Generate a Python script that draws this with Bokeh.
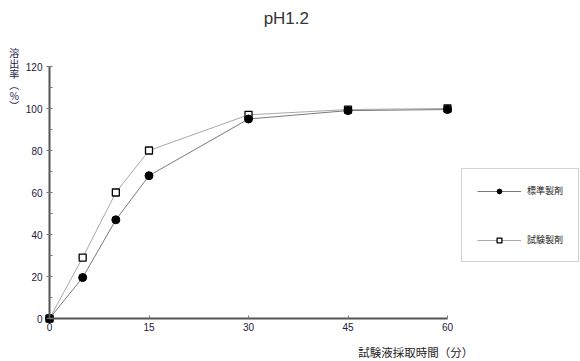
from bokeh.plotting import figure
from bokeh.models import Range1d, Legend, LegendItem, FixedTicker, Label
from bokeh.embed import file_html
from bokeh.resources import INLINE

# data
times = [0, 5, 10, 15, 30, 45, 60]
standard = [0, 19.5, 47, 68, 95, 99, 99.5]
test = [0, 29, 60, 80, 97, 99.5, 100]
x_ticks = [0, 15, 30, 45, 60]
y_ticks = [0, 20, 40, 60, 80, 100, 120]
y_minor = [10, 30, 50, 70, 90, 110]
title_text = "pH1.2"
x_label = "試験液採取時間（分）"
y_label_chars = ["溶", "出", "率", "︵", "%", "︶"]
series_names = ["標準製剤", "試験製剤"]

W, H = 580, 361
# frame covers the whole canvas: x=0 at 49px, x=60 at 447px; y=0 at 318px, y=120 at 66px (from top)
X0, X60, Y0, Y120 = 49, 447, 318, 66
xpx = (X60 - X0) / 60.0
ypx = (Y0 - Y120) / 120.0
x_start, x_end = -X0 / xpx, (W - X0) / xpx
y_start, y_end = -(H - Y0) / ypx, 120 + Y120 / ypx
p = figure(width=W, height=H, output_backend="svg", toolbar_location=None,
           x_range=Range1d(x_start, x_end), y_range=Range1d(y_start, y_end),
           min_border_left=0, min_border_right=0, min_border_top=0, min_border_bottom=0)
p.outline_line_color = None
p.xgrid.visible = False
p.ygrid.visible = False
p.background_fill_color = "white"
p.border_fill_color = "white"

for ax in (p.xaxis[0], p.yaxis[0]):
    ax.fixed_location = 0
    ax.axis_line_color = "#555555"
    ax.axis_line_width = 2
    ax.major_tick_line_color = "#777777"
    ax.minor_tick_line_color = "#777777"
    ax.major_tick_in = 3
    ax.major_tick_out = 3
    ax.major_label_text_font = "Liberation Sans"
    ax.major_label_text_font_size = "10px"
    ax.major_label_text_color = "#1a1a3a"
    ax.major_label_standoff = 4

p.xaxis[0].ticker = FixedTicker(ticks=x_ticks)
p.xaxis[0].bounds = (0, 60)
p.xaxis[0].major_tick_out = 0
p.yaxis[0].ticker = FixedTicker(ticks=y_ticks, minor_ticks=y_minor)
p.yaxis[0].bounds = (0, 120)
p.yaxis[0].minor_tick_in = 3
p.yaxis[0].minor_tick_out = 0

# test series first, standard series (filled circles) drawn on top
l2 = p.line(times, test, line_color="#a8a8a8", line_width=1)
m2 = p.scatter(times, test, marker="square", size=7, fill_color="white", line_color="black", line_width=1.3)
l1 = p.line(times, standard, line_color="#7a7a7a", line_width=1)
m1 = p.scatter(times, standard, marker="circle", size=8, fill_color="black", line_color="black")

leg = Legend(items=[LegendItem(label=series_names[0], renderers=[l1, m1]),
                    LegendItem(label=series_names[1], renderers=[l2, m2])],
             location=(461, H - 262))
leg.label_text_font = "Noto Sans CJK JP"
leg.label_text_font_size = "9px"
leg.label_text_color = "#222222"
leg.glyph_width = 44
leg.glyph_height = 12
leg.spacing = 36
leg.padding = 15
leg.margin = 0
leg.label_standoff = 6
leg.border_line_color = "#aaaaaa"
leg.border_line_width = 1
leg.background_fill_alpha = 1
p.add_layout(leg, "center")

# title
p.add_layout(Label(x=35.7, y=142.9, text=title_text,
                   text_font="Liberation Sans", text_font_size="17px",
                   text_color="#333333", text_align="center", text_baseline="middle"))
# x axis label
p.add_layout(Label(x=55.2, y=-16.0, text=x_label,
                   text_font="Noto Sans CJK JP", text_font_size="11.5px",
                   text_color="#222222", text_align="center", text_baseline="middle"))
# y axis label: upright stacked characters
for i, ch in enumerate(y_label_chars):
    p.add_layout(Label(x=-5.3, y=126.7 - i * 5.1, text=ch,
                       text_font="Noto Sans CJK JP", text_font_size="10px",
                       text_color="#1a1a4a", text_align="center", text_baseline="middle"))

open("out.html", "w").write(file_html(p, INLINE))
